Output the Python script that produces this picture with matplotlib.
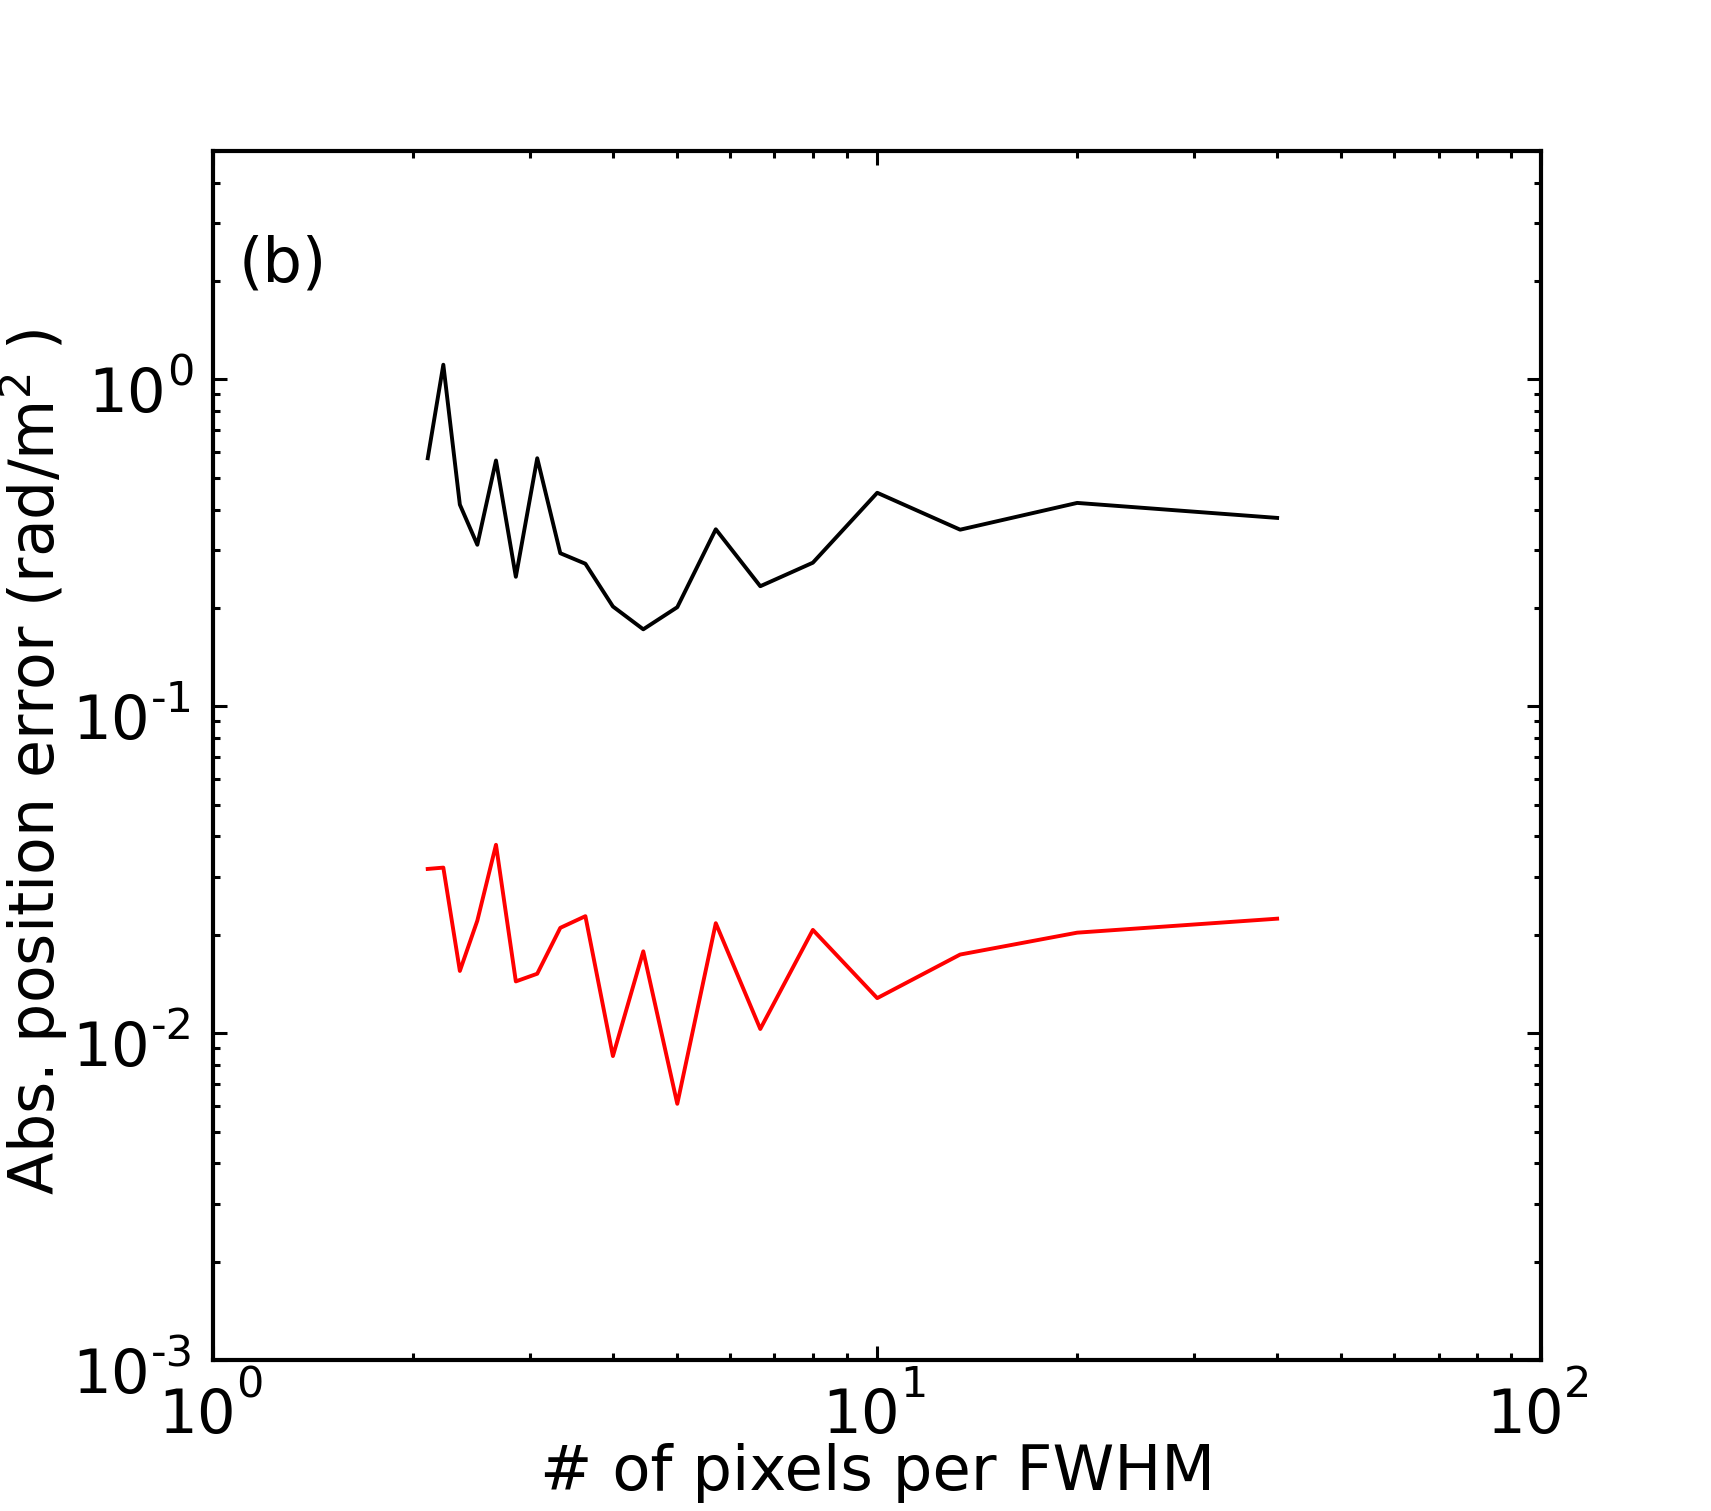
import numpy as np
import matplotlib
matplotlib.use("Agg")
import matplotlib.pyplot as plt
from matplotlib.ticker import LogLocator, NullFormatter

plt.rcParams['font.family'] = ['DejaVu Sans']
plt.rcParams['mathtext.fontset'] = 'dejavusans'

# pixels per FWHM
npix = [2.105, 2.222, 2.353, 2.5, 2.667, 2.857, 3.077, 3.333, 3.636, 4.0,
        4.444, 5.0, 5.714, 6.667, 8.0, 10.0, 13.33, 20.0, 40.0]
# abs. position error, black curve
err_black = [0.574, 1.109, 0.414, 0.312, 0.565, 0.249, 0.574, 0.294, 0.273, 0.202,
             0.172, 0.201, 0.348, 0.233, 0.275, 0.450, 0.347, 0.419, 0.377]
# abs. position error, red curve
err_red = [0.0318, 0.0321, 0.0155, 0.0221, 0.0377, 0.0144, 0.0152, 0.0210, 0.0228, 0.00851,
           0.0178, 0.00608, 0.0217, 0.0103, 0.0207, 0.0128, 0.0174, 0.0203, 0.0224]

fig = plt.figure(figsize=(17.11, 15.11), dpi=100)
ax = fig.add_axes([0.1245, 0.0999, 0.7764, 0.8002])

ax.plot(npix, err_black, color='black', lw=2.8)
ax.plot(npix, err_red, color='red', lw=2.8)

ax.set_xscale('log')
ax.set_yscale('log')
ax.set_xlim(1, 100)
ax.set_ylim(1e-3, 5)

for axis in (ax.xaxis, ax.yaxis):
    axis.set_major_locator(LogLocator(base=10, numticks=10))
    axis.set_minor_locator(LogLocator(base=10, subs=np.arange(2, 10), numticks=10))
    axis.set_major_formatter(NullFormatter())
    axis.set_minor_formatter(NullFormatter())

ax.tick_params(which='both', direction='in', top=True, right=True, width=2.2)
ax.tick_params(which='major', length=10)
ax.tick_params(which='minor', length=5)
for s in ax.spines.values():
    s.set_linewidth(3)

# IDL style tick labels: "10" with a raised exponent
def exp_str(v):
    e = int(round(np.log10(v)))
    return '%d' % e if e >= 0 else '-%d' % (-e)

xlo, xhi = ax.get_xlim()
for v in ax.get_xticks():
    if v < xlo * 0.999 or v > xhi * 1.001:
        continue
    base = ax.annotate('10', xy=(v, 0), xycoords=ax.get_xaxis_transform(),
                       xytext=(-16, -73), textcoords='offset pixels',
                       ha='center', va='baseline', fontsize=44)
    ax.annotate(exp_str(v), xy=(1, 0), xycoords=base,
                xytext=(0, 49), textcoords='offset pixels',
                ha='left', va='baseline', fontsize=31)

ylo, yhi = ax.get_ylim()
for v in ax.get_yticks():
    if v < ylo * 0.999 or v > yhi * 1.001:
        continue
    ex = ax.annotate(exp_str(v), xy=(0, v), xycoords=ax.get_yaxis_transform(),
                     xytext=(-19, -6), textcoords='offset pixels',
                     ha='right', va='baseline', fontsize=31)
    ax.annotate('10', xy=(0, 0), xycoords=ex,
                xytext=(-1, -18), textcoords='offset pixels',
                ha='right', va='baseline', fontsize=44)

ax.set_xlabel('# of pixels per FWHM', fontsize=45)
ax.xaxis.set_label_coords(0.5, -0.1073)
ax.xaxis.label.set_verticalalignment('baseline')

ax.set_ylabel(r'Abs. position error (rad/m$^2$ )', fontsize=44.5)
ax.yaxis.set_label_coords(-0.108, 0.4946)

ax.text(0.0195, 0.892, '(b)', transform=ax.transAxes, fontsize=45, va='baseline', ha='left')

fig.savefig('out.png', dpi=100)
